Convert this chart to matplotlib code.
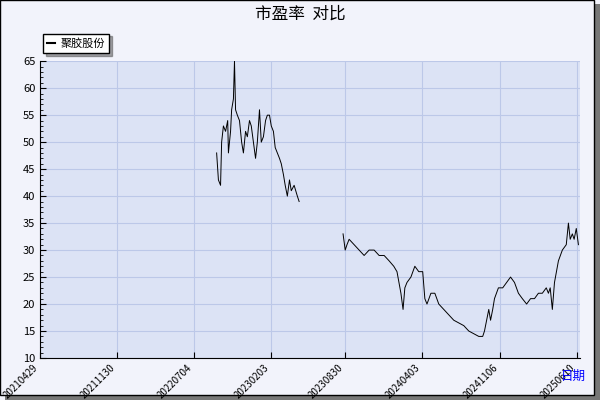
import matplotlib
matplotlib.use("Agg")
import matplotlib.pyplot as plt
import numpy as np
from datetime import date, timedelta
from matplotlib.patches import Rectangle
from matplotlib.ticker import MultipleLocator

plt.rcParams['font.family'] = ['Noto Sans CJK SC', 'DejaVu Sans']

base = date(2021, 4, 29)
seg1_days = [494,499,505,508,513,519,525,527,533,536,541,544,547,552,558,564,569,575,580,586,591,597,603,608,614,619,625,631,636,642,647,653,658,664,670,675,681,686,692,698,703,711,720,725]
seg1_vals = [48,43,42,50,53,52,54,48,52,56,58,65,56,55,54,50,48,52,51,54,53,50,47,50,56,50,51,54,55,55,53,52,49,48,47,46,44,42,40,43,41,42,40,39]
seg2_days = [848,854,859,865,879,893,907,921,935,949,963,977,990,999,1010,1016,1021,1027,1038,1049,1060,1071,1077,1083,1094,1105,1116,1130,1144,1158,1172,1186,1200,1214,1228,1239,1244,1250,1256,1261,1267,1272,1283,1295,1306,1317,1328,1339,1350,1362,1373,1384,1395,1406,1417,1423,1428,1434,1440,1451,1462,1473,1479,1484,1490,1495,1501,1507]
seg2_vals = [33,30,31,32,31,30,29,30,30,29,29,28,27,26,22,19,23,24,25,27,26,26,21,20,22,22,20,19,18,17,16.5,16,15,14.5,14,14,15,17,19,17,19,21,23,23,24,25,24,22,21,20,21,21,22,22,23,22,23,19,24,28,30,31,35,32,33,32,34,31]
tick_labels = ['20210429','20211130','20220704','20230203','20230830','20240403','20241106','20250610']
series_name = '聚胶股份'

x = [base + timedelta(days=d) for d in seg1_days] + [base + timedelta(days=780)] + [base + timedelta(days=d) for d in seg2_days]
y = seg1_vals + [np.nan] + seg2_vals

fig = plt.figure(figsize=(6, 4), dpi=100, facecolor='#F2F3FB')
fig.patches.append(Rectangle((0.008, 0.0), 0.992, 0.99, transform=fig.transFigure, facecolor='#777777', edgecolor='none', zorder=-2))
fig.patches.append(Rectangle((0.0, 0.012), 0.99, 0.988, transform=fig.transFigure, facecolor='#F2F3FB', edgecolor='black', lw=1, zorder=-1))
ax = fig.add_axes([0.067, 0.105, 0.9, 0.742])
ax.set_facecolor('#DCE3F5')
ax.plot(x, y, color='black', lw=0.7, label=series_name)
ax.set_ylim(10, 65)
ax.set_xlim(base, base + timedelta(days=1512))
ax.yaxis.set_major_locator(MultipleLocator(5))
ax.yaxis.set_minor_locator(MultipleLocator(1))
ticks = [date(int(s[:4]), int(s[4:6]), int(s[6:])) for s in tick_labels]
ax.set_xticks(ticks)
ax.set_xticklabels(tick_labels, rotation=45, ha='right', fontsize=7)
ax.tick_params(axis='y', labelsize=8, direction='in', length=4)
ax.tick_params(axis='y', which='minor', direction='in', length=2)
ax.tick_params(axis='x', direction='in', length=4)
ax.grid(True, color='#BCC8E8', lw=0.8)
for s in ['top', 'right']:
    ax.spines[s].set_visible(False)
fig.text(0.5, 0.965, '市盈率  对比', ha='center', va='center', fontsize=12)
fig.text(0.955, 0.05, '日期', color='blue', ha='center', fontsize=9)
leg = fig.legend(loc='upper left', bbox_to_anchor=(0.062, 0.93), fontsize=8, frameon=True, fancybox=False, handlelength=0.7, handletextpad=0.5, edgecolor='black', shadow=True)
for l in leg.get_lines():
    l.set_linewidth(1.5)
fig.savefig('out.png', dpi=100, facecolor=fig.get_facecolor())
